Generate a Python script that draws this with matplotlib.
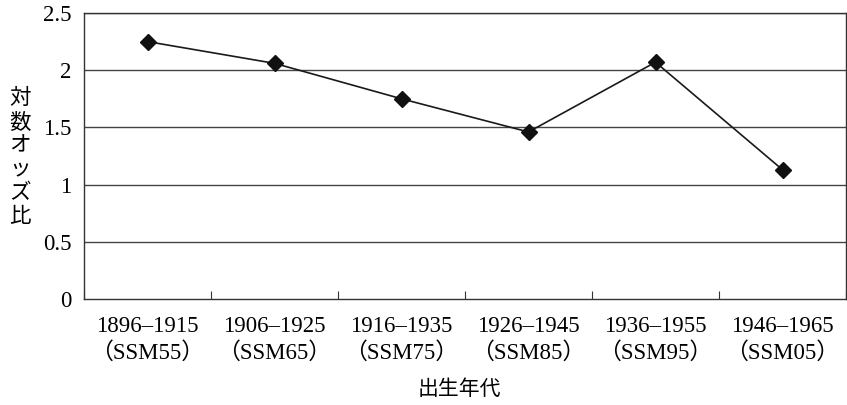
import matplotlib
matplotlib.use("Agg")
import matplotlib.pyplot as plt
import numpy as np

periods = ["1896–1915", "1906–1925", "1916–1935", "1926–1945", "1936–1955", "1946–1965"]
surveys = ["（SSM55）", "（SSM65）", "（SSM75）", "（SSM85）", "（SSM95）", "（SSM05）"]
values = [2.25, 2.06, 1.75, 1.46, 2.07, 1.13]
yticks = [0, 0.5, 1, 1.5, 2, 2.5]
ytick_labels = ["0", "0.5", "1", "1.5", "2", "2.5"]
ylabel = "対数オッズ比"
xlabel = "出生年代"

fam = ["Liberation Serif", "Noto Sans CJK JP"]
plt.rcParams["font.family"] = fam

fig = plt.figure(figsize=(8.47, 4.05), dpi=100)
ax = fig.add_axes([84/847, 106/405, 762/847, 286/405])

x = np.arange(len(values))
ax.plot(x, values, color="#1a1a1a", lw=1.2, marker="D", markersize=8,
        markerfacecolor="#111111", markeredgecolor="#111111", zorder=3)

ax.set_xlim(-0.5, len(values) - 0.5)
ax.set_ylim(0, 2.5)
ax.set_yticks(yticks)
ax.set_yticklabels(ytick_labels, fontsize=16.5)
for y in yticks[1:]:
    ax.axhline(y, color="#444444", lw=1.0, zorder=1)

# tick marks at category boundaries, labels at centers
ax.set_xticks(np.arange(len(values) + 1) - 0.5)
ax.set_xticklabels([])
ax.tick_params(axis="x", which="major", direction="in", length=6, color="#333333")
ax.set_xticks(x, minor=True)
ax.set_xticklabels([f"{p}\n{s}" for p, s in zip(periods, surveys)], minor=True,
                   fontsize=16.5, linespacing=1.3)
ax.tick_params(axis="x", which="minor", length=0, pad=12)
ax.tick_params(axis="y", length=0, pad=9)

for sp in ax.spines.values():
    sp.set_color("#333333")
    sp.set_linewidth(1.0)

fig.text(459/847, 1 - 390/405, xlabel, ha="center", va="center", fontsize=15)
fig.text(20/847, 1 - 158/405, "\n".join(ylabel), ha="center", va="center",
         fontsize=15.5, linespacing=1.3)

fig.savefig("out.png", dpi=100)
